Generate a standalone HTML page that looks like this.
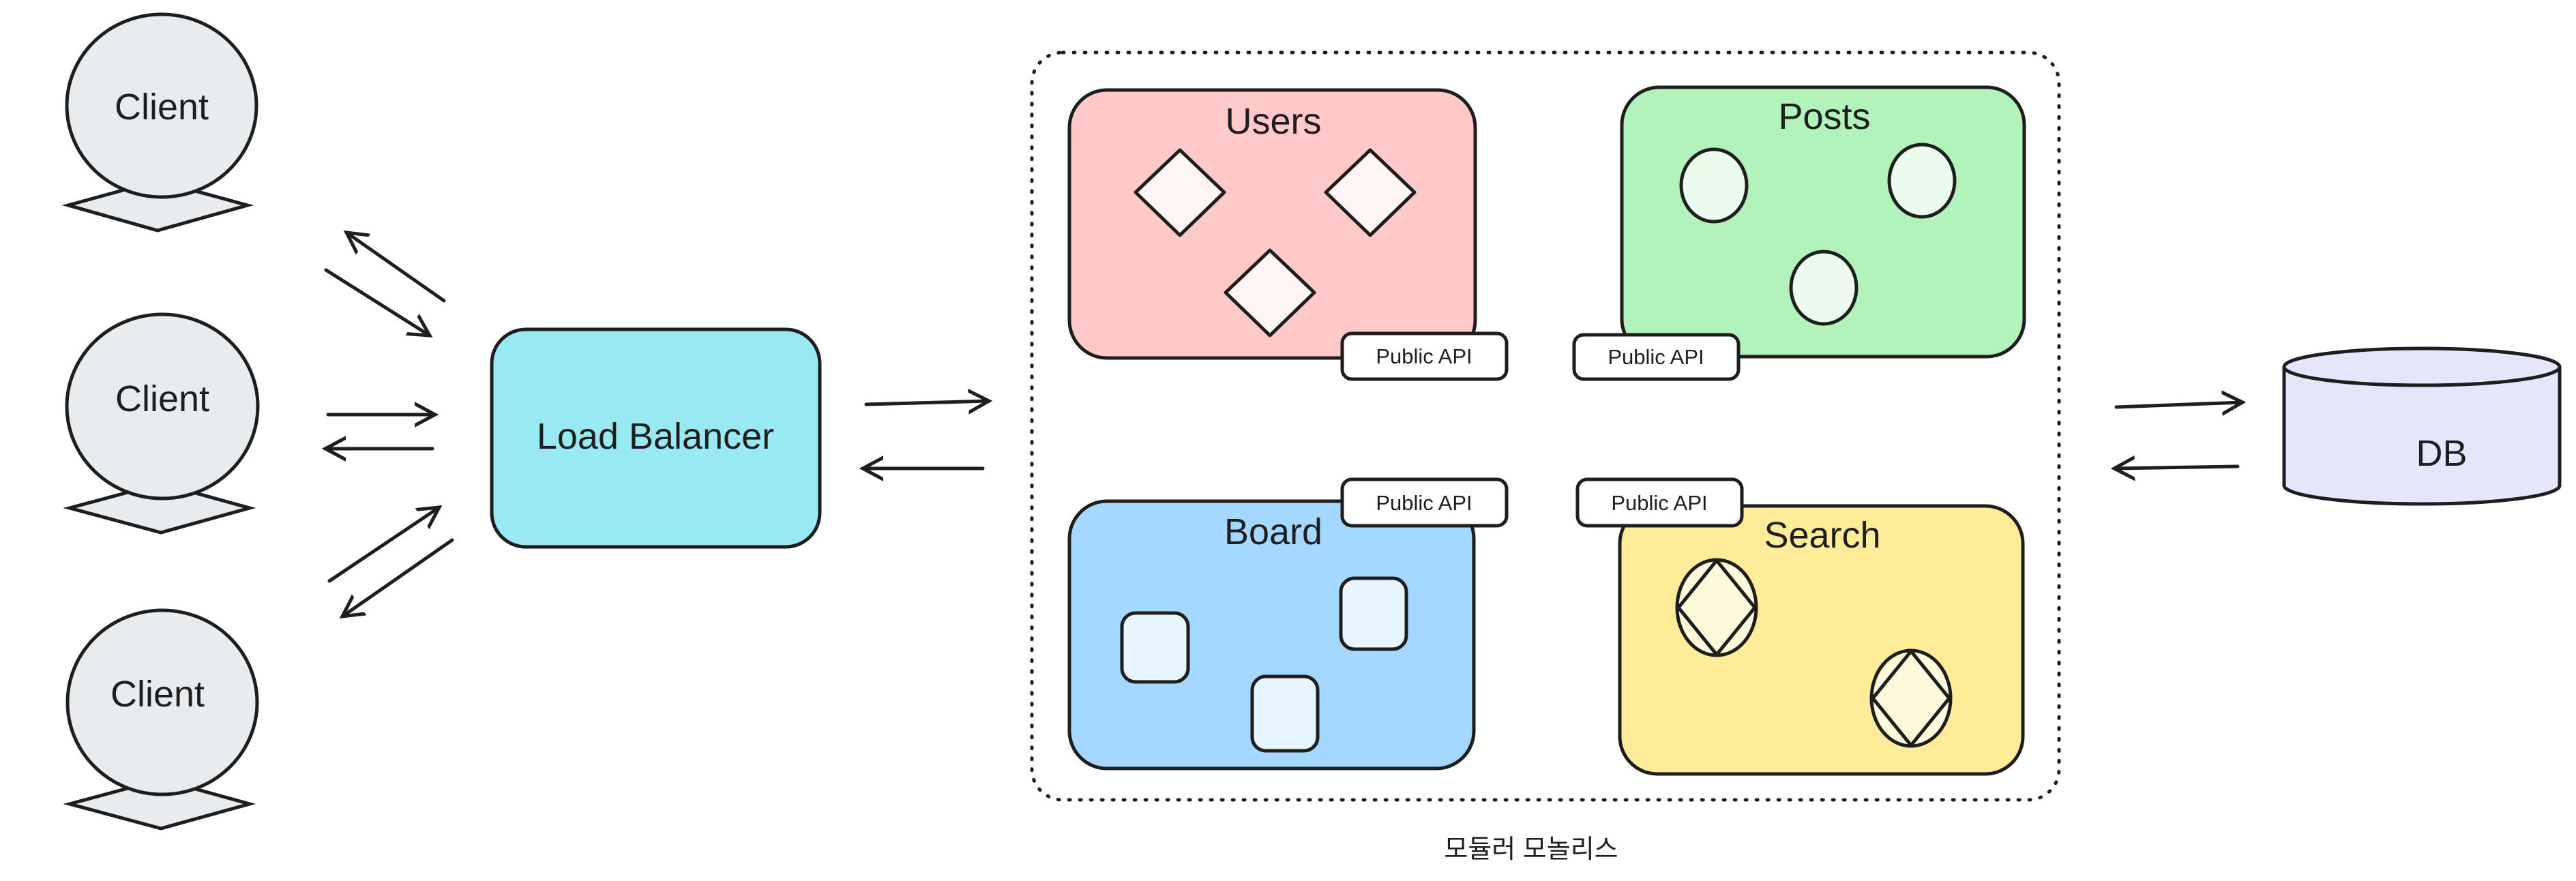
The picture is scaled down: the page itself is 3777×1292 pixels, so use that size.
<!DOCTYPE html>
<html><head><meta charset="utf-8"><style>
html,body{margin:0;padding:0;background:#fff;width:3777px;height:1292px;overflow:hidden}
svg text{font-family:"Liberation Sans","Noto Sans CJK KR",sans-serif;fill:#1e1e1e}
</style></head><body>
<svg width="3777" height="1292" viewBox="0 0 3777 1292" xmlns="http://www.w3.org/2000/svg">
<defs>
<marker id="ah" markerWidth="40" markerHeight="40" refX="30" refY="20" orient="auto" markerUnits="userSpaceOnUse">
<path d="M0,4 L30,20 L0,36" fill="none" stroke="#1e1e1e" stroke-width="5" stroke-linecap="round"/>
</marker>
</defs>
<g stroke="#1e1e1e" stroke-width="5" fill="#e9ecef">
<polygon points="100,301 231,265 363,301 231,338"/>
<ellipse cx="237" cy="155" rx="139" ry="134"/>
<polygon points="102,745 236,709 366,745 236,781"/>
<ellipse cx="238" cy="596" rx="140" ry="135"/>
<polygon points="102,1179 236,1143 366,1179 236,1215"/>
<ellipse cx="238" cy="1030" rx="139" ry="135"/>
<rect x="721" y="483" width="481" height="319" rx="50" fill="#99e9f2"/>
<path d="M3349,538 L3349,712 A202,27 0 0 0 3753,712 L3753,538" fill="#e5e5fb"/>
<ellipse cx="3551" cy="538" rx="202" ry="27" fill="#e5e5fb"/>
</g>
<g font-size="54" text-anchor="middle">
<text x="237" y="175">Client</text>
<text x="238" y="603">Client</text>
<text x="231" y="1036">Client</text>
<text x="961" y="658">Load Balancer</text>
<text x="3580" y="683">DB</text>
</g>
<g stroke="#1e1e1e" stroke-width="5" fill="none" stroke-linecap="round" marker-end="url(#ah)">
<line x1="651" y1="441" x2="508" y2="341"/>
<line x1="478" y1="396" x2="630" y2="492"/>
<line x1="481" y1="608" x2="638" y2="608"/>
<line x1="634" y1="658" x2="477" y2="658"/>
<line x1="483" y1="852" x2="644" y2="744"/>
<line x1="663" y1="792" x2="502" y2="904"/>
<line x1="1270" y1="593" x2="1450" y2="588"/>
<line x1="1441" y1="687" x2="1265" y2="687"/>
<line x1="3103" y1="597" x2="3288" y2="590"/>
<line x1="3281" y1="684" x2="3100" y2="687"/>
</g>
<rect x="1513" y="77" width="1506" height="1096" rx="45" fill="none" stroke="#1e1e1e" stroke-width="5" stroke-dasharray="2 14" stroke-linecap="round"/>
<g stroke="#1e1e1e" stroke-width="5">
<rect x="1568" y="132" width="595" height="393" rx="55" fill="#ffc9c9"/>
<rect x="2378" y="128" width="590" height="395" rx="55" fill="#b2f2bb"/>
<rect x="1568" y="735" width="593" height="392" rx="55" fill="#a5d8ff"/>
<rect x="2375" y="742" width="591" height="393" rx="55" fill="#ffec99"/>
<g fill="#fff5f5" stroke-linejoin="round">
<polygon points="1730,220 1795,282 1730,345 1665,282"/>
<polygon points="2009,220 2074,282 2009,345 1944,282"/>
<polygon points="1862,367 1927,429 1862,492 1797,429"/>
</g>
<g fill="#ebfbee">
<ellipse cx="2513" cy="272" rx="48" ry="53"/>
<ellipse cx="2818" cy="265" rx="48" ry="53"/>
<ellipse cx="2674" cy="422" rx="48" ry="53"/>
</g>
<g fill="#e7f5ff">
<rect x="1645" y="899" width="97" height="101" rx="20"/>
<rect x="1966" y="848" width="96" height="104" rx="20"/>
<rect x="1836" y="992" width="96" height="109" rx="20"/>
</g>
<g fill="#fff9db" stroke-linejoin="round">
<ellipse cx="2517" cy="891" rx="58" ry="70"/>
<polygon points="2517,822 2573,891 2517,960 2461,891"/>
<ellipse cx="2802" cy="1024" rx="58" ry="70"/>
<polygon points="2802,955 2858,1024 2802,1093 2746,1024"/>
</g>
<g fill="#ffffff">
<rect x="1968" y="489" width="241" height="67" rx="14"/>
<rect x="2308" y="491" width="241" height="65" rx="14"/>
<rect x="1968" y="703" width="241" height="68" rx="14"/>
<rect x="2313" y="703" width="241" height="68" rx="14"/>
</g>
</g>
<g font-size="54" text-anchor="middle">
<text x="1867" y="196">Users</text>
<text x="2675" y="189">Posts</text>
<text x="1867" y="798">Board</text>
<text x="2672" y="803">Search</text>
</g>
<g font-size="31" text-anchor="middle">
<text x="2088" y="533">Public API</text>
<text x="2428" y="534">Public API</text>
<text x="2088" y="748">Public API</text>
<text x="2433" y="748">Public API</text>
</g>
<text x="2245" y="1258" font-size="38" text-anchor="middle">모듈러 모놀리스</text>
</svg>
</body></html>
